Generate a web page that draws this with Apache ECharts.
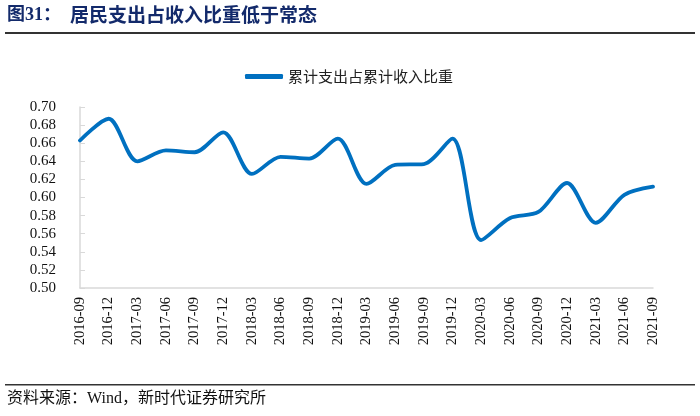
<!DOCTYPE html>
<html>
<head>
<meta charset="utf-8">
<script src="https://cdn.jsdelivr.net/npm/echarts@6/dist/echarts.min.js"></script>
<style>
html,body{margin:0;padding:0;background:#fff;}
#chart{width:700px;height:416px;}
</style>
</head>
<body>
<div id="chart"></div>
<script>
const categories = ['2016-09','2016-12','2017-03','2017-06','2017-09','2017-12','2018-03','2018-06','2018-09','2018-12','2019-03','2019-06','2019-09','2019-12','2020-03','2020-06','2020-09','2020-12','2021-03','2021-06','2021-09'];
const ratioValues = [0.663,0.687,0.640,0.652,0.650,0.672,0.626,0.645,0.643,0.665,0.615,0.636,0.637,0.665,0.553,0.577,0.584,0.616,0.572,0.603,0.612];
const seriesName = '累计支出占累计收入比重';
const titleLabel = '图31：';
const titleText = '居民支出占收入比重低于常态';
const sourceText = '资料来源：Wind，新时代证券研究所';

const chart = echarts.init(document.getElementById('chart'));
chart.setOption({
  animation: false,
  backgroundColor: '#fff',
  graphic: [
    {type:'text', left:7, top:6, style:{text:titleLabel, font:'bold 18px "Liberation Serif","Noto Sans CJK SC"', fill:'#132a6b'}},
    {type:'text', left:70, top:5, style:{text:titleText, font:'bold 19px "Noto Sans CJK SC"', fill:'#132a6b'}},
    {type:'rect', left:5, top:32, shape:{width:690, height:2}, style:{fill:'#333'}},
    {type:'rect', left:5, top:384, shape:{width:690, height:1.5}, style:{fill:'#333'}},
    {type:'text', left:7, top:391, style:{text:sourceText, font:'16px "Liberation Serif","Noto Sans CJK SC"', fill:'#111'}}
  ],
  legend: {
    left: 240, top: 64,
    icon: 'roundRect', itemWidth: 38, itemHeight: 5, itemGap: 5,
    textStyle: {fontSize: 15, color: '#222', fontFamily: 'Noto Sans CJK SC'},
    data: [seriesName]
  },
  grid: {left: 80, right: 47, top: 107, bottom: 128},
  xAxis: {
    type: 'category',
    data: categories,
    boundaryGap: false,
    axisLine: {lineStyle: {color: '#d9d9d9', width: 1.5}},
    axisTick: {show: false},
    axisLabel: {rotate: 90, margin: 9, fontSize: 14.5, color: '#111', fontFamily: 'Liberation Serif', interval: 0}
  },
  yAxis: {
    type: 'value',
    min: 0.5, max: 0.7, interval: 0.02,
    axisLine: {show: true, lineStyle: {color: '#d9d9d9', width: 1.5}},
    axisTick: {show: true, inside: true, length: 5, lineStyle: {color: '#d9d9d9'}},
    splitLine: {show: false},
    axisLabel: {margin: 24, fontSize: 15, color: '#111', fontFamily: 'Liberation Serif', formatter: v => v.toFixed(2)}
  },
  series: [{
    name: seriesName,
    type: 'line',
    data: ratioValues,
    smooth: 0.3,
    showSymbol: false,
    lineStyle: {color: '#0070c0', width: 3.8, cap: 'round'},
    itemStyle: {color: '#0070c0'}
  }]
});
</script>
</body>
</html>
